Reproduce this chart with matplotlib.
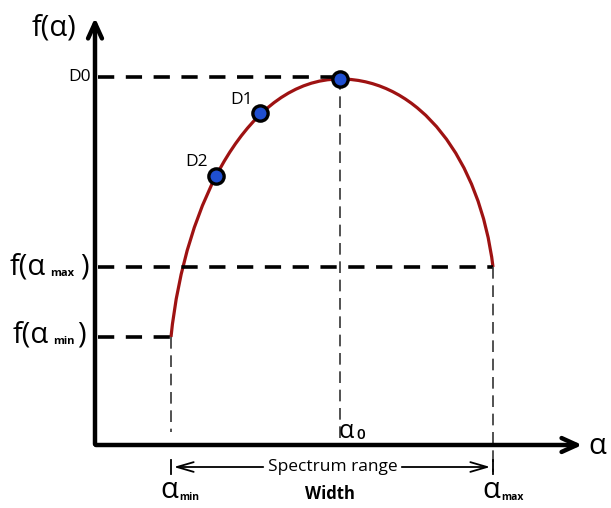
import numpy as np
import matplotlib.pyplot as plt
from matplotlib.path import Path
from matplotlib.patches import PathPatch

H = 508  # picture height, used to flip the read-off pixel rows

# spectrum curve as two cubic pieces (alpha, f row)
left_ctrl = [(171, 337), (185, 200), (250, 79), (340, 79)]
right_ctrl = [(340, 79), (420, 79), (480, 160), (493, 267)]

# labelled points D0, D1, D2
pt_names = ['D0', 'D1', 'D2']
pt_alpha = [340, 260, 216]
pt_f = [H - 79, H - 113, H - 176]

a_min, a0, a_max = 171, 340, 493
f_min, f_max, f_0 = H - 337, H - 267, H - 78
x0, y0 = 95, H - 445   # axis origin

fig = plt.figure(figsize=(6.11, 5.08), dpi=100)
ax = fig.add_axes([0, 0, 1, 1])
ax.set_xlim(0, 611)
ax.set_ylim(0, H)
ax.axis('off')

font = 'Open Sans'

# axes with arrows
ax.annotate('', xy=(585, y0), xytext=(x0 - 2, y0),
            arrowprops=dict(arrowstyle='->,head_length=1.1,head_width=0.5', lw=3.2, color='black'))
ax.annotate('', xy=(x0, H - 15), xytext=(x0, y0 - 2),
            arrowprops=dict(arrowstyle='->,head_length=1.1,head_width=0.5', lw=3.2, color='black'))

# heavy horizontal dashed guides
hd = dict(color='black', lw=2.6, dashes=(4.5, 3.2))
ax.plot([x0 + 3, a0], [f_0 + 1, f_0 + 1], **hd)
ax.plot([x0 + 3, a_max], [f_max, f_max], **hd)
ax.plot([x0 + 3, a_min], [f_min, f_min], **hd)

# thin vertical dashed guides
vd = dict(color='#333333', lw=1.2, dashes=(7, 4))
ax.plot([a_min, a_min], [f_min, H - 432], **vd)
ax.plot([a0, a0], [f_0, H - 440], **vd)
ax.plot([a_max, a_max], [f_max, H - 472], **vd)

# spectrum curve
verts = [(x, H - y) for x, y in left_ctrl] + [(x, H - y) for x, y in right_ctrl[1:]]
codes = [Path.MOVETO] + [Path.CURVE4] * 6
ax.add_patch(PathPatch(Path(verts, codes), fill=False, edgecolor='#9e1212', lw=2.3))
ax.plot(pt_alpha, pt_f, 'o', ms=11, mfc='#1f4fd1', mec='black', mew=2.4, zorder=5)

# spectrum range arrow
ya = H - 467
ax.annotate('', xy=(a_min, ya), xytext=(266, ya),
            arrowprops=dict(arrowstyle='->,head_length=1.2,head_width=0.35', lw=1.3, color='black'))
ax.annotate('', xy=(a_max, ya), xytext=(399, ya),
            arrowprops=dict(arrowstyle='->,head_length=1.2,head_width=0.35', lw=1.3, color='black'))
ax.plot([a_min, a_min], [ya - 7, ya + 7], color='black', lw=1.3)
ax.plot([a_max, a_max], [ya - 7, ya + 7], color='black', lw=1.3)
ax.text(333, ya, 'Spectrum range', ha='center', va='center', fontsize=12.5, family=font)
ax.text(330, H - 494, 'Width', ha='center', va='center', fontsize=12, fontweight='bold', family=font)

# text labels
ax.text(54, H - 28, 'f(α)', ha='center', va='center', fontsize=21, family=font)
ax.text(606, y0 - 1, 'α', ha='right', va='center', fontsize=21, family=font)
ax.text(91, f_0 + 1, pt_names[0], ha='right', va='center', fontsize=12.5, family=font)
ax.text(pt_alpha[1] - 7, pt_f[1] + 13, pt_names[1], ha='right', va='center', fontsize=12.5, family=font)
ax.text(pt_alpha[2] - 8, pt_f[2] + 14, pt_names[2], ha='right', va='center', fontsize=12.5, family=font)


def sub_label(x, y, main, sub, tail='', size=21, sub_size=8, dx_sub=0, dx_tail=0, dy_sub=-6,
              sub_weight='bold'):
    ax.text(x, y, main, ha='left', va='center', fontsize=size, family=font)
    ax.text(x + dx_sub, y + dy_sub, sub, ha='left', va='center', fontsize=sub_size,
            fontweight=sub_weight, family=font)
    if tail:
        ax.text(x + dx_tail, y, tail, ha='left', va='center', fontsize=size, family=font)


sub_label(10, f_max, 'f(α', 'max', ')', dx_sub=40, dx_tail=70)
sub_label(13, f_min + 2, 'f(α', 'min', ')', dx_sub=40, dx_tail=64)
sub_label(339, H - 432, 'α', '0', size=18, sub_size=11, dx_sub=17, dy_sub=-3, sub_weight='semibold')
sub_label(160, H - 491, 'α', 'min', size=21, sub_size=7.5, dx_sub=19)
sub_label(482, H - 491, 'α', 'max', size=21, sub_size=7.5, dx_sub=19)

fig.savefig('out.png', dpi=100, facecolor='white')
